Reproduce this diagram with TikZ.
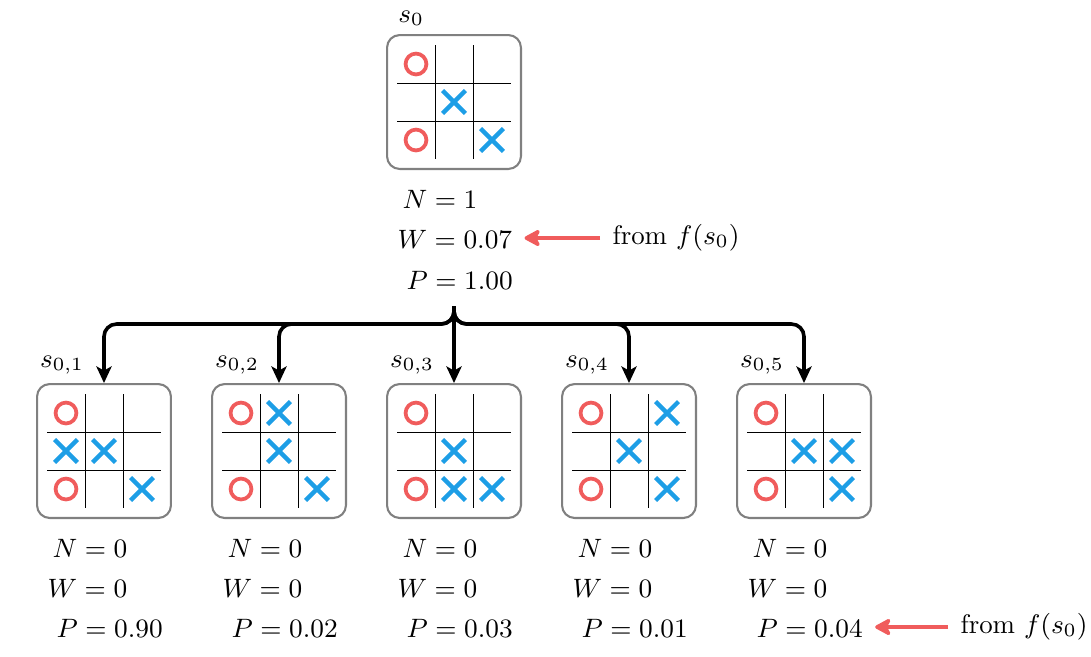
\RequirePackage{fix-cm}
\documentclass[tikz,border=0pt]{standalone}
\usetikzlibrary{arrows.meta,calc,positioning,shapes.misc}
\definecolor{ored}{RGB}{240,92,92}
\definecolor{xblue}{RGB}{29,158,230}

\begin{document}
\begin{tikzpicture}[x=0.0127cm, y=-0.0127cm, font=\fontsize{9.6}{11.5}\selectfont,
  board/.style={draw=gray, line width=0.75pt, rounded corners=0.16cm, minimum size=1.70cm, inner sep=0pt},
  gridline/.style={line width=0.35pt},
  omark/.style={circle, draw=ored, line width=1.35pt, minimum size=0.265cm, inner sep=0pt},
  xmark/.style={cross out, draw=xblue, line width=1.55pt, minimum size=0.235cm, inner sep=0pt},
  stat/.style={anchor=west, inner sep=0pt},
  treearrow/.style={line width=1.3pt, rounded corners=0.16cm, -{Stealth[length=6pt,width=5.5pt,inset=1.5pt]}},
  redarrow/.style={draw=ored, line width=1.5pt, shorten <=0.15cm, shorten >=0.15cm, -{Stealth[length=7pt,width=7.5pt,inset=2pt,round]}}]

\useasboundingbox (0,0) rectangle (1091,656);

% boards
\node[board] (b0) at (454,102) {};
\node[board] (c1) at (104,451) {};
\node[board] (c2) at (279,451) {};
\node[board] (c3) at (454,451) {};
\node[board] (c4) at (629,451) {};
\node[board] (c5) at (804,451) {};

\foreach \b in {b0,c1,c2,c3,c4,c5} {
  \draw[gridline] ($(\b)+(-19,-57)$) -- ($(\b)+(-19,57)$);
  \draw[gridline] ($(\b)+(19,-57)$) -- ($(\b)+(19,57)$);
  \draw[gridline] ($(\b)+(-57,-19)$) -- ($(\b)+(57,-19)$);
  \draw[gridline] ($(\b)+(-57,19)$) -- ($(\b)+(57,19)$);
  \node[omark] at ($(\b)+(-38,-38)$) {};
  \node[omark] at ($(\b)+(-38,38)$) {};
}

% crosses (column/row)
\foreach \i/\j in {1/1,2/2} \node[xmark] at ($(b0)+(38*\i-38,38*\j-38)$) {};
\foreach \i/\j in {0/1,1/1,2/2} \node[xmark] at ($(c1)+(38*\i-38,38*\j-38)$) {};
\foreach \i/\j in {1/0,1/1,2/2} \node[xmark] at ($(c2)+(38*\i-38,38*\j-38)$) {};
\foreach \i/\j in {1/1,1/2,2/2} \node[xmark] at ($(c3)+(38*\i-38,38*\j-38)$) {};
\foreach \i/\j in {2/0,1/1,2/2} \node[xmark] at ($(c4)+(38*\i-38,38*\j-38)$) {};
\foreach \i/\j in {1/1,2/1,2/2} \node[xmark] at ($(c5)+(38*\i-38,38*\j-38)$) {};

% state labels
\node (l0) at ($(b0.north west)+(25,-16)$) {$s_0$};
\node (l1) at ($(c1.north west)+(26,-18)$) {$s_{0,1}$};
\node (l2) at ($(c2.north west)+(26,-18)$) {$s_{0,2}$};
\node (l3) at ($(c3.north west)+(26,-18)$) {$s_{0,3}$};
\node (l4) at ($(c4.north west)+(26,-18)$) {$s_{0,4}$};
\node (l5) at ($(c5.north west)+(26,-18)$) {$s_{0,5}$};

% statistics
\node[stat] (n0) at ($(b0.south west)+(16,29)$) {$N=1$};
\node[stat] (w0) at ($(b0.south west)+(11,69)$) {$W=0.07$};
\node[stat] (p0) at ($(b0.south west)+(20,110)$) {$P=1.00$};

\node[stat] (n1) at ($(c1.south west)+(16,29)$) {$N=0$};
\node[stat] (w1) at ($(c1.south west)+(11,69)$) {$W=0$};
\node[stat] (p1) at ($(c1.south west)+(20,109)$) {$P=0.90$};

\node[stat] (n2) at ($(c2.south west)+(16,29)$) {$N=0$};
\node[stat] (w2) at ($(c2.south west)+(11,69)$) {$W=0$};
\node[stat] (p2) at ($(c2.south west)+(20,109)$) {$P=0.02$};

\node[stat] (n3) at ($(c3.south west)+(16,29)$) {$N=0$};
\node[stat] (w3) at ($(c3.south west)+(11,69)$) {$W=0$};
\node[stat] (p3) at ($(c3.south west)+(20,109)$) {$P=0.03$};

\node[stat] (n4) at ($(c4.south west)+(16,29)$) {$N=0$};
\node[stat] (w4) at ($(c4.south west)+(11,69)$) {$W=0$};
\node[stat] (p4) at ($(c4.south west)+(20,109)$) {$P=0.01$};

\node[stat] (n5) at ($(c5.south west)+(16,29)$) {$N=0$};
\node[stat] (w5) at ($(c5.south west)+(11,69)$) {$W=0$};
\node[stat] (p5) at ($(c5.south west)+(20,109)$) {$P=0.04$};

% network outputs
\node[stat, font=\fontsize{9.7}{11.5}\selectfont] (f0) at (612,238) {from $f(s_0)$};
\draw[redarrow] (f0.west) -- (f0.west -| w0.east);
\node[stat, font=\fontsize{9.7}{11.5}\selectfont] (f5) at (960,627) {from $f(s_0)$};
\draw[redarrow] (f5.west) -- (f5.west -| p5.east);

% expansion
\coordinate (fork) at ($(b0.south)+(0,136)$);
\draw[treearrow] (fork) |- ($(c1.north)+(0,-59)$) -- (c1.north);
\draw[treearrow] (fork) |- ($(c2.north)+(0,-59)$) -- (c2.north);
\draw[treearrow] (fork) -- (c3.north);
\draw[treearrow] (fork) |- ($(c4.north)+(0,-59)$) -- (c4.north);
\draw[treearrow] (fork) |- ($(c5.north)+(0,-59)$) -- (c5.north);
\end{tikzpicture}
\end{document}
